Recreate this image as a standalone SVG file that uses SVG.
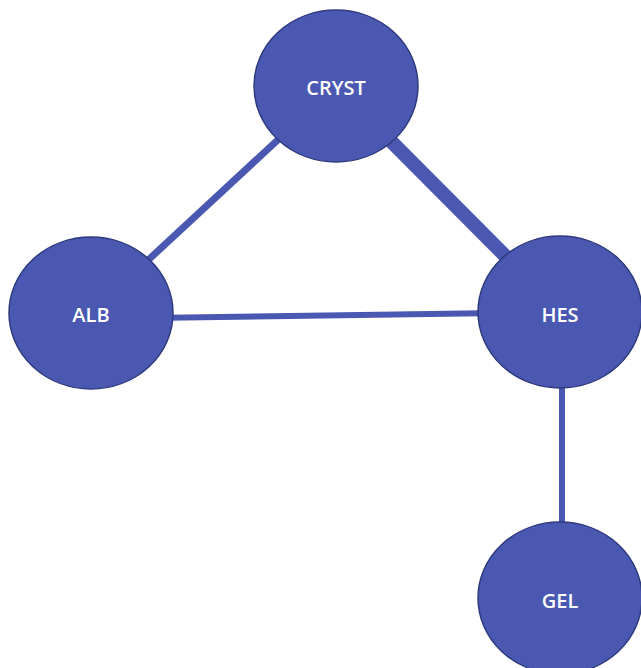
<svg xmlns="http://www.w3.org/2000/svg" width="641" height="668" viewBox="0 0 641 668">
<style>
.edge{stroke:#4a58b2;fill:none}
.node ellipse{fill:#4a58b2;stroke:#2e3a7e;stroke-width:1.5}
.node text{fill:#ffffff;font-family:"Open Sans","Liberation Sans",sans-serif;font-size:20px;font-weight:600;text-anchor:middle;dominant-baseline:central}
</style>
<rect width="641" height="668" fill="#ffffff"/>
<g id="connectors">
<line class="edge" x1="336" y1="86" x2="560" y2="311" stroke-width="14"/>
<line class="edge" x1="91" y1="313" x2="336" y2="86" stroke-width="7"/>
<line class="edge" x1="150" y1="318" x2="500" y2="313" stroke-width="6"/>
<line class="edge" x1="562" y1="360" x2="562" y2="560" stroke-width="6"/>
</g>
<g id="CRYST" class="node"><ellipse cx="336" cy="86" rx="82" ry="76"/><text x="336" y="87">CRYST</text></g>
<g id="ALB" class="node"><ellipse cx="91" cy="313" rx="82" ry="76"/><text x="91" y="314">ALB</text></g>
<g id="HES" class="node"><ellipse cx="560" cy="312" rx="82" ry="76"/><text x="560" y="314">HES</text></g>
<g id="GEL" class="node"><ellipse cx="560" cy="598" rx="82" ry="76"/><text x="560" y="600">GEL</text></g>
</svg>
